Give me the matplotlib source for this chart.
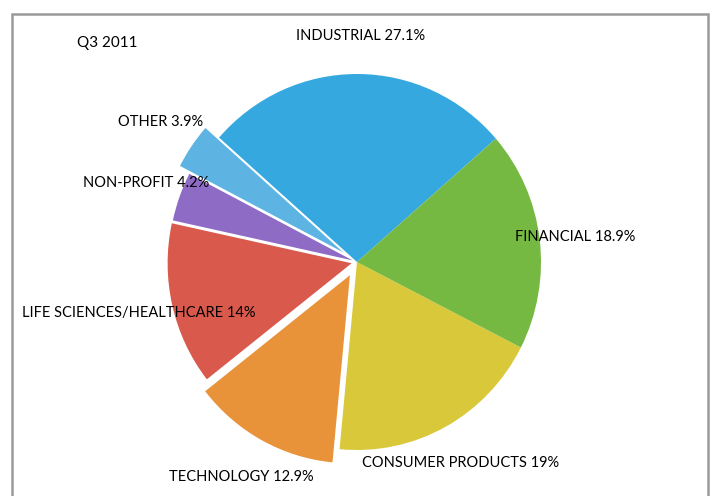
import matplotlib
matplotlib.use("Agg")
import matplotlib.pyplot as plt
from matplotlib.patches import Rectangle

# slice order counter-clockwise, starting at the industrial/financial boundary
sectors = ["INDUSTRIAL", "OTHER", "NON-PROFIT", "LIFE SCIENCES/HEALTHCARE",
           "TECHNOLOGY", "CONSUMER PRODUCTS", "FINANCIAL"]
shares = [27.1, 3.9, 4.2, 14, 12.9, 19, 18.9]
share_txt = ["27.1%", "3.9%", "4.2%", "14%", "12.9%", "19%", "18.9%"]
colors = ["#35a8df", "#5db4e2", "#8e6cc6", "#d95a4c", "#e8923a", "#d8c83a", "#75b943"]
explode = [0, 0.09, 0.025, 0.03, 0.08, 0, 0]

# label anchor positions in pixels (left edge, vertical centre), top-left origin
label_pos = [(296, 36), (118, 122), (83, 183), (22, 313),
             (169, 477), (362, 463), (515, 237)]

W, H = 711, 496
fig = plt.figure(figsize=(W / 100, H / 100), dpi=100)
fig.patch.set_facecolor("white")

# pie is drawn slightly taller than wide, as in the source
cx, cy, rx, ry = 357, 262, 184, 188
lim = 1.2
ax = fig.add_axes([(cx - lim * rx) / W, (H - cy - lim * ry) / H,
                   2 * lim * rx / W, 2 * lim * ry / H])
ax.pie(shares, colors=colors, explode=explode, startangle=41, counterclock=True,
       radius=1.0, wedgeprops=dict(linewidth=0))
ax.set_xlim(-lim, lim)
ax.set_ylim(-lim, lim)
ax.set_aspect("auto")
ax.axis("off")

font = "Lato"
fig.text(77 / W, 1 - 43 / H, "Q3 2011", fontsize=11, family=font,
         ha="left", va="center")
for name, pct, (px, py) in zip(sectors, share_txt, label_pos):
    fig.text(px / W, 1 - py / H, f"{name} {pct}", fontsize=10.5, family=font,
             ha="left", va="center", color="black")

# grey frame
fig.add_artist(Rectangle((12 / W, -0.05), (708 - 12) / W, 1.05 - 14 / H,
                         transform=fig.transFigure, fill=False,
                         edgecolor="#9a9a9a", linewidth=1.8))

fig.savefig("out.png", dpi=100)
